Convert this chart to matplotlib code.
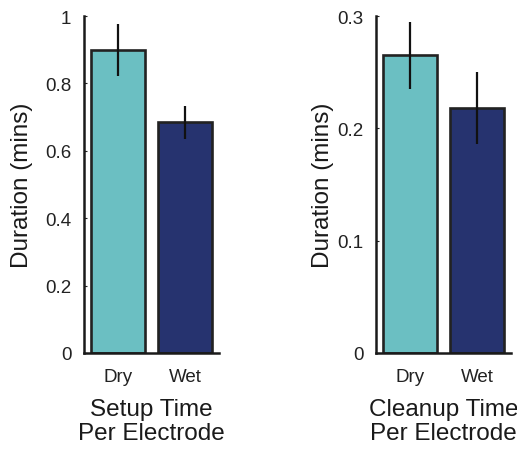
import matplotlib
matplotlib.use("Agg")
import matplotlib.pyplot as plt

plt.rcParams['font.family'] = ['Liberation Sans', 'DejaVu Sans']

categories = ["Dry", "Wet"]
setup_means = [0.899, 0.685]
setup_errs = [0.077, 0.049]
cleanup_means = [0.265, 0.218]
cleanup_errs = [0.030, 0.032]
setup_ticks = [0, 0.2, 0.4, 0.6, 0.8, 1]
setup_ticklabels = ["0", "0.2", "0.4", "0.6", "0.8", "1"]
cleanup_ticks = [0, 0.1, 0.2, 0.3]
cleanup_ticklabels = ["0", "0.1", "0.2", "0.3"]
titles = ["Setup Time\nPer Electrode", "Cleanup Time\nPer Electrode"]
colors = ["#6bbfc2", "#26336f"]

fig = plt.figure(figsize=(5.17, 4.52), dpi=100)
ax1 = fig.add_axes([84/517, 1-354/452, 135/517, 337/452])
ax2 = fig.add_axes([376/517, 1-354/452, 135/517, 337/452])

panels = [
    (ax1, setup_means, setup_errs, setup_ticks, setup_ticklabels, (0, 1), titles[0], -0.375),
    (ax2, cleanup_means, cleanup_errs, cleanup_ticks, cleanup_ticklabels, (0, 0.3), titles[1], -0.31),
]

for ax, means, errs, ticks, tlabels, ylim, title, lx in panels:
    x = range(len(categories))
    ax.bar(x, means, width=0.8, color=colors, edgecolor="#222222", linewidth=1.9, zorder=2)
    ax.errorbar(x, means, yerr=errs, fmt="none", ecolor="#111111", elinewidth=1.6, capsize=0, zorder=3)
    ax.set_xlim(-0.5, 1.5)
    ax.set_ylim(*ylim)
    ax.set_yticks(ticks)
    ax.set_yticklabels(tlabels)
    ax.set_xticks(list(x))
    ax.set_xticklabels(categories)
    for s in ["top", "right"]:
        ax.spines[s].set_visible(False)
    for s in ["left", "bottom"]:
        ax.spines[s].set_linewidth(1.8)
        ax.spines[s].set_color("#1a1a1a")
    ax.tick_params(axis="y", direction="in", length=2, width=0.8, pad=9, labelsize=13.5, colors="#222222")
    ax.tick_params(axis="x", length=0, pad=11, labelsize=13.5, colors="#222222")
    ax.set_ylabel("Duration (mins)", fontsize=17.5, color="#1a1a1a")
    ax.yaxis.set_label_coords(lx, 0.5)
    ax.set_xlabel(title, fontsize=17.5, color="#1a1a1a", linespacing=1.12, labelpad=9)

fig.savefig("out.png", dpi=100)
